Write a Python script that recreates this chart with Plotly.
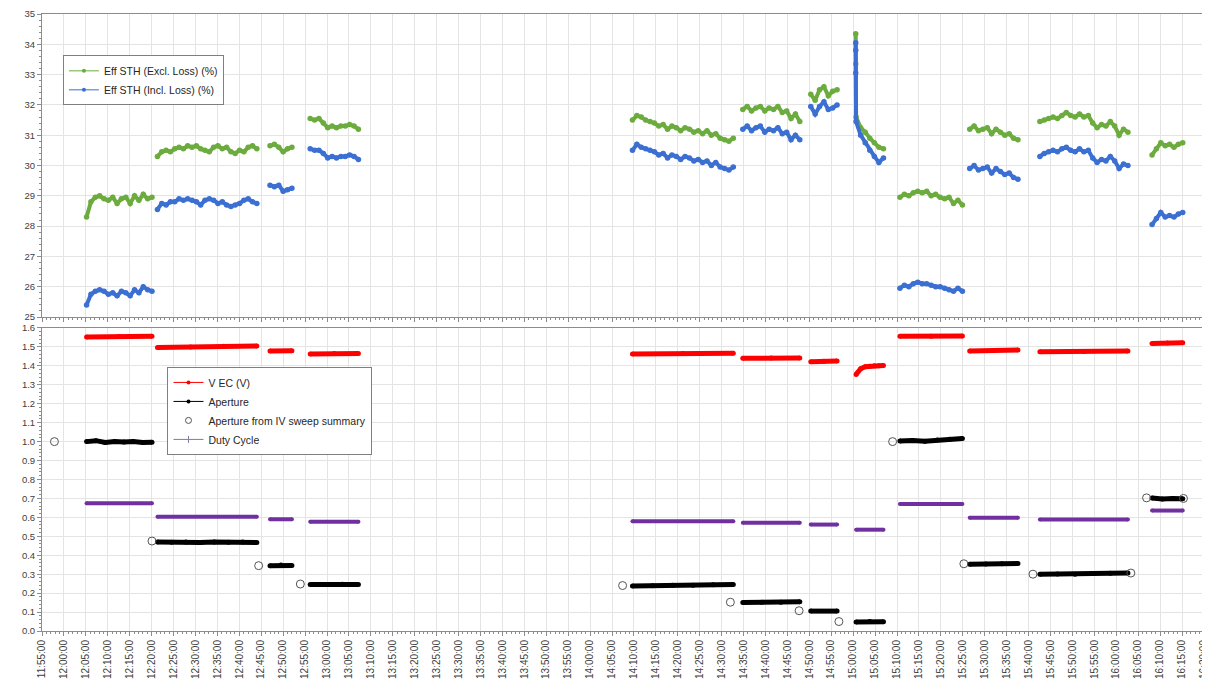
import pandas as pd
import plotly.graph_objects as go
from plotly.subplots import make_subplots

DAY = "2020-01-01 "

# ---------------- data ----------------
seg_start = ["12:05:10", "12:21:20", "12:47:00", "12:56:10", "14:09:40", "14:34:50",
             "14:50:20", "15:00:40", "15:10:40", "15:26:35", "15:42:35", "16:08:10"]
seg_end = ["12:20:05", "12:44:00", "12:52:00", "13:07:10", "14:32:40", "14:47:50",
           "14:56:20", "15:06:55", "15:24:55", "15:37:35", "16:02:40", "16:15:10"]

eff_excl = [
    [28.3, 28.8, 28.95, 29.0, 28.9, 28.85, 28.95, 28.75, 28.9, 28.95, 28.75, 29.0, 28.85, 29.05, 28.9, 28.95],
    [30.3, 30.45, 30.5, 30.45, 30.55, 30.6, 30.55, 30.65, 30.6, 30.65, 30.55, 30.5, 30.45, 30.6, 30.65, 30.55,
     30.6, 30.45, 30.4, 30.5, 30.45, 30.6, 30.65, 30.55],
    [30.65, 30.7, 30.6, 30.45, 30.55, 30.6],
    [31.55, 31.5, 31.55, 31.4, 31.25, 31.3, 31.25, 31.3, 31.3, 31.35, 31.3, 31.2],
    [31.5, 31.65, 31.6, 31.5, 31.45, 31.4, 31.3, 31.35, 31.2, 31.3, 31.25, 31.15, 31.25, 31.2, 31.1, 31.15,
     31.05, 31.15, 31.0, 31.05, 30.9, 30.85, 30.8, 30.9],
    [31.85, 31.95, 31.8, 31.9, 31.95, 31.8, 31.9, 31.85, 31.95, 31.75, 31.8, 31.55, 31.7, 31.45],
    [32.35, 32.15, 32.5, 32.6, 32.3, 32.45, 32.5],
    [31.6, 31.25, 31.1, 30.9, 30.75, 30.6, 30.55],
    [28.95, 29.05, 29.0, 29.1, 29.15, 29.1, 29.15, 29.0, 29.05, 28.95, 28.9, 28.95, 28.75, 28.85, 28.7],
    [31.2, 31.3, 31.15, 31.2, 31.25, 31.05, 31.2, 31.1, 31.0, 31.05, 30.9, 30.85],
    [31.45, 31.5, 31.55, 31.6, 31.55, 31.65, 31.75, 31.65, 31.6, 31.7, 31.6, 31.65, 31.4, 31.25, 31.35,
     31.3, 31.45, 31.3, 31.0, 31.2, 31.1],
    [30.35, 30.55, 30.75, 30.65, 30.7, 30.6, 30.7, 30.75],
]

eff_incl = [
    [25.4, 25.75, 25.85, 25.9, 25.85, 25.75, 25.8, 25.7, 25.85, 25.8, 25.7, 25.9, 25.8, 26.0, 25.9, 25.85],
    [28.55, 28.75, 28.7, 28.8, 28.8, 28.9, 28.85, 28.9, 28.85, 28.8, 28.7, 28.85, 28.9, 28.85, 28.75, 28.8,
     28.7, 28.65, 28.7, 28.75, 28.85, 28.9, 28.8, 28.75],
    [29.35, 29.3, 29.35, 29.15, 29.2, 29.25],
    [30.55, 30.5, 30.5, 30.4, 30.25, 30.3, 30.25, 30.3, 30.3, 30.35, 30.3, 30.2],
    [30.5, 30.7, 30.6, 30.55, 30.5, 30.45, 30.35, 30.4, 30.25, 30.35, 30.3, 30.2, 30.3, 30.25, 30.15, 30.2,
     30.1, 30.15, 30.0, 30.1, 29.95, 29.9, 29.85, 29.95],
    [31.2, 31.3, 31.15, 31.25, 31.3, 31.1, 31.2, 31.15, 31.25, 31.05, 31.1, 30.85, 31.0, 30.85],
    [31.95, 31.7, 31.95, 32.1, 31.85, 31.9, 32.0],
    [31.45, 31.0, 30.75, 30.5, 30.3, 30.1, 30.25],
    [25.95, 26.05, 26.0, 26.1, 26.15, 26.1, 26.1, 26.05, 26.0, 26.0, 25.95, 25.9, 25.85, 25.95, 25.85],
    [29.9, 30.0, 29.85, 29.9, 29.95, 29.75, 29.9, 29.8, 29.7, 29.75, 29.6, 29.55],
    [30.3, 30.4, 30.45, 30.5, 30.45, 30.55, 30.6, 30.5, 30.45, 30.55, 30.45, 30.5, 30.25, 30.1, 30.2,
     30.15, 30.3, 30.15, 29.9, 30.05, 30.0],
    [28.05, 28.25, 28.45, 28.3, 28.35, 28.3, 28.4, 28.45],
]

# start-up spike of segment 8 (15:00)
spike_seg = 7
spike_time = "15:00:35"
spike_excl = [34.35, 33.35]
spike_incl = [34.05, 33.8, 33.05]

v_ec = [
    [1.553, 1.555, 1.556],
    [1.497, 1.500, 1.503, 1.505],
    [1.478, 1.480],
    [1.462, 1.465, 1.465],
    [1.462, 1.465, 1.466],
    [1.440, 1.442, 1.442],
    [1.422, 1.425, 1.426],
    [1.355, 1.385, 1.395, 1.398, 1.400, 1.400, 1.402],
    [1.556, 1.557, 1.558],
    [1.478, 1.481, 1.484],
    [1.474, 1.476, 1.478],
    [1.518, 1.521, 1.522],
]

aperture = [
    [1.0, 1.005, 0.995, 1.0, 0.998, 1.0, 0.995, 0.997],
    [0.47, 0.468, 0.47, 0.467, 0.47, 0.468, 0.47, 0.467],
    [0.345, 0.348, 0.346],
    [0.245, 0.246, 0.247, 0.246],
    [0.237, 0.239, 0.241, 0.242, 0.244, 0.246],
    [0.150, 0.152, 0.152, 0.154],
    [0.105, 0.105],
    [0.048, 0.050, 0.049],
    [1.003, 1.006, 1.002, 1.008, 1.012, 1.016],
    [0.352, 0.354, 0.355, 0.356],
    [0.300, 0.301, 0.299, 0.303, 0.305, 0.306],
    [0.702, 0.697, 0.699, 0.698],
]

duty_cycle = [
    [0.674, 0.674], [0.603, 0.603], [0.590, 0.590], [0.577, 0.577],
    [0.579, 0.579], [0.571, 0.571], [0.562, 0.562], [0.535, 0.535],
    [0.670, 0.670], [0.598, 0.598], [0.589, 0.589], [0.636, 0.636],
]

iv_time = ["11:57:50", "12:20:05", "12:44:25", "12:53:55", "14:07:25", "14:32:00", "14:47:40",
           "14:56:45", "15:09:00", "15:25:15", "15:41:00", "16:03:20", "16:06:55", "16:15:20"]
iv_aperture = [1.0, 0.475, 0.345, 0.248, 0.24, 0.152, 0.107, 0.05, 1.0, 0.355, 0.30, 0.306, 0.703, 0.70]

x_ticks_start = "11:55:00"
x_ticks_end = "16:20:01"


# ---------------- build ----------------
def build(series, spike_vals=None):
    xs, ys = [], []
    for i, vals in enumerate(series):
        t = pd.date_range(DAY + seg_start[i], DAY + seg_end[i], periods=len(vals))
        if spike_vals is not None and i == spike_seg:
            xs += [pd.Timestamp(DAY + spike_time)] * len(spike_vals)
            ys += list(spike_vals)
        xs += list(t)
        ys += list(vals)
        xs.append(None)
        ys.append(None)
    return xs, ys


GREEN = "#6cac3e"
BLUE = "#3b6fd2"
RED = "#ff0000"
PURPLE = "#7030a0"
FONT = "Liberation Sans"

fig = make_subplots(rows=2, cols=1, shared_xaxes=True, vertical_spacing=0.0178)

for name, ser, spk, col in [("Eff STH (Excl. Loss) (%)", eff_excl, spike_excl, GREEN),
                            ("Eff STH (Incl. Loss) (%)", eff_incl, spike_incl, BLUE)]:
    x, y = build(ser, spk)
    fig.add_trace(go.Scatter(x=x, y=y, mode="lines+markers", name=name, showlegend=False,
                             line=dict(color=col, width=4), marker=dict(color=col, size=5.5)),
                  row=1, col=1)
    fig.add_trace(go.Scatter(x=[None], y=[None], mode="lines+markers", name=name, legend="legend",
                             line=dict(color=col, width=1), marker=dict(color=col, size=4)),
                  row=1, col=1)

for name, ser, col, w in [("V EC (V)", v_ec, RED, 5),
                          ("Aperture", aperture, "#000000", 5),
                          ("Duty Cycle", duty_cycle, PURPLE, 4)]:
    x, y = build(ser)
    fig.add_trace(go.Scatter(x=x, y=y, mode="lines+markers", name=name, showlegend=False,
                             line=dict(color=col, width=w), marker=dict(color=col, size=w)),
                  row=2, col=1)

fig.add_trace(go.Scatter(x=[pd.Timestamp(DAY + t) for t in iv_time], y=iv_aperture, mode="markers",
                         name="Aperture from IV sweep summary", showlegend=False,
                         marker=dict(symbol="circle-open", color="#555555", size=8, line=dict(width=1))),
              row=2, col=1)

# legend-only entries for bottom panel
fig.add_trace(go.Scatter(x=[None], y=[None], mode="lines+markers", name="V EC (V)", legend="legend2",
                         line=dict(color=RED, width=1), marker=dict(color=RED, size=4)), row=2, col=1)
fig.add_trace(go.Scatter(x=[None], y=[None], mode="lines+markers", name="Aperture", legend="legend2",
                         line=dict(color="#000000", width=1), marker=dict(color="#000000", size=4)), row=2, col=1)
fig.add_trace(go.Scatter(x=[None], y=[None], mode="markers", name="Aperture from IV sweep summary",
                         legend="legend2",
                         marker=dict(symbol="circle-open", color="#555555", size=6, line=dict(width=1))),
              row=2, col=1)
fig.add_trace(go.Scatter(x=[None], y=[None], mode="lines+markers", name="Duty Cycle", legend="legend2",
                         line=dict(color="#7f7f9f", width=1),
                         marker=dict(symbol="line-ns", color="#7f7f9f", size=5, line=dict(width=1, color="#7f7f9f"))),
              row=2, col=1)

GRID = "#e4e4e4"
AXIS = "#8c8c8c"
TICKF = dict(family=FONT, size=9.5, color="#404040")

xr = [pd.Timestamp(DAY + x_ticks_start), pd.Timestamp(DAY + x_ticks_end)]
common_x = dict(range=xr, type="date", dtick=300000, tick0=pd.Timestamp(DAY + x_ticks_start),
                tickformat="%H:%M:%S", showgrid=True, gridcolor=GRID, gridwidth=1,
                showline=True, linecolor=AXIS, linewidth=1, mirror=True,
                ticks="outside", ticklen=4, tickcolor=AXIS, automargin=False,
                ticklabeloverflow="allow",
                minor=dict(dtick=60000, ticks="outside", ticklen=2, tickcolor=AXIS, showgrid=False),
                zeroline=False)
fig.update_xaxes(**common_x)
fig.update_xaxes(showticklabels=False, row=1, col=1)
fig.update_xaxes(tickangle=-90, tickfont=dict(family=FONT, size=10, color="#404040"), row=2, col=1)

common_y = dict(showgrid=True, gridcolor=GRID, gridwidth=1, showline=True, linecolor=AXIS,
                linewidth=1, mirror=True, ticks="outside", ticklen=4, tickcolor=AXIS,
                tickfont=TICKF, zeroline=False, automargin=False, ticklabeloverflow="allow")
fig.update_yaxes(**common_y)
fig.update_yaxes(range=[25, 35], dtick=1,
                 minor=dict(dtick=0.2, ticks="outside", ticklen=2, tickcolor=AXIS, showgrid=False),
                 row=1, col=1)
fig.update_yaxes(range=[0, 1.6], dtick=0.1, tickformat=".1f",
                 minor=dict(dtick=0.02, ticks="outside", ticklen=2, tickcolor=AXIS, showgrid=False),
                 row=2, col=1)

LEG = dict(xanchor="left", yanchor="top", bgcolor="white", bordercolor="#7f7f7f", borderwidth=1,
           font=dict(family=FONT, size=10.5, color="#262626"), itemwidth=30, tracegroupgap=0)
fig.update_layout(
    width=1202, height=682,
    margin=dict(l=34, r=6, t=6, b=59, autoexpand=False),
    paper_bgcolor="white", plot_bgcolor="white",
    legend=dict(x=0.018, y=0.933, **LEG),
    legend2=dict(x=0.108, y=0.428, **LEG),
    font=dict(family=FONT, size=9, color="#404040"),
)

fig.write_html("out.html")
